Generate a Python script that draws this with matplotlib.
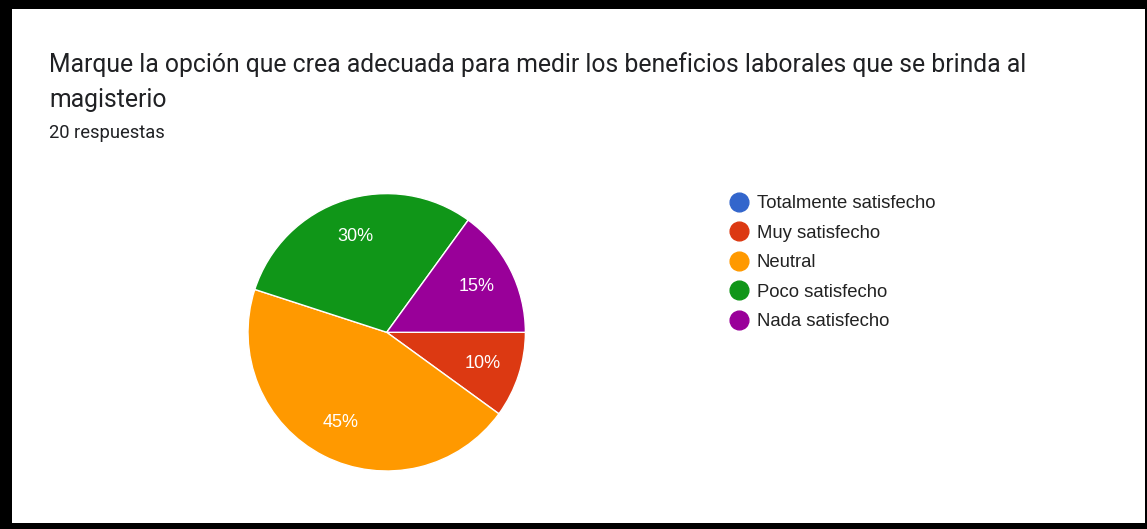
import matplotlib
matplotlib.use("Agg")
import matplotlib.pyplot as plt
from matplotlib.patches import Rectangle
from matplotlib.lines import Line2D

title_line1 = "Marque la opción que crea adecuada para medir los beneficios laborales que se brinda al"
title_line2 = "magisterio"
subtitle = "20 respuestas"
categories = ["Totalmente satisfecho", "Muy satisfecho", "Neutral", "Poco satisfecho", "Nada satisfecho"]
values = [0, 10, 45, 30, 15]
colors = ["#3366cc", "#dc3912", "#ff9900", "#109618", "#990099"]

W, H = 1147, 529
fig = plt.figure(figsize=(W / 100, H / 100), dpi=100)
fig.patch.set_facecolor("black")
# white card inside black frame
fig.add_artist(Rectangle((12 / W, (H - 523) / H), (1145 - 12) / W, (523 - 9) / H,
                         transform=fig.transFigure, facecolor="white", edgecolor="none", zorder=0))

def px(x, y):
    return x / W, (H - y) / H

fig.text(*px(49, 72), title_line1, fontsize=17.8, family="Roboto", color="#202124", va="baseline", ha="left")
fig.text(*px(49, 107), title_line2, fontsize=17.8, family="Roboto", color="#202124", va="baseline", ha="left")
fig.text(*px(49, 138.5), subtitle, fontsize=13.2, family="Roboto", color="#202124", va="baseline", ha="left")

cx, cy, r = 386.7, 332.3, 138.7
ax = fig.add_axes([(cx - r) / W, (H - cy - r) / H, 2 * r / W, 2 * r / H])
wedges, texts, autotexts = ax.pie(
    values, colors=colors, startangle=0, counterclock=False,
    autopct=lambda p: f"{p:.0f}%" if p > 0 else "", pctdistance=0.73,
    wedgeprops=dict(edgecolor="white", linewidth=1),
    textprops=dict(color="white", fontsize=13, family="Liberation Sans"))
ax.set_xlim(-1, 1)
ax.set_ylim(-1, 1)
ax.set_aspect("equal")
ax.axis("off")

handles = [Line2D([], [], marker="o", linestyle="none", markersize=13.5, markerfacecolor=c,
                  markeredgecolor=c) for c in colors]
leg = fig.legend(handles, categories, loc="upper left", bbox_to_anchor=px(730, 195),
                 bbox_transform=fig.transFigure, frameon=False, borderpad=0, borderaxespad=0,
                 handlelength=1.0, handletextpad=0.45, labelspacing=0.68,
                 prop=dict(family="Liberation Sans", size=13.3))
for t in leg.get_texts():
    t.set_color("#222222")

fig.savefig("out.png", dpi=100, facecolor=fig.get_facecolor())
